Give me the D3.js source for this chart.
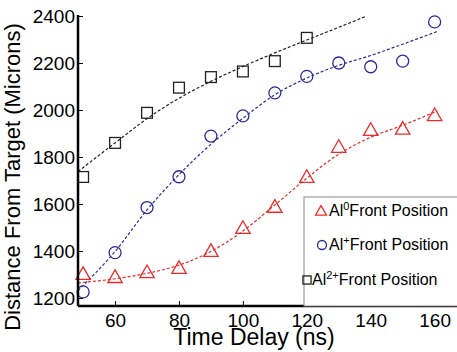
<!DOCTYPE html>
<html>
<head>
<meta charset="utf-8">
<script src="https://cdn.jsdelivr.net/npm/d3@7"></script>
<style>
  body { margin: 0; background: #fff; }
  svg text { font-family: "Liberation Sans", Arial, sans-serif; }
</style>
</head>
<body>
<div id="chart"></div>
<script>
// measured delays (ns)
const delays = [50, 60, 70, 80, 90, 100, 110, 120, 130, 140, 150, 160];
const al0 = [1302, 1289, 1310, 1328, 1400, 1498, 1588, 1715, 1843, 1915, 1920, 1978];
const al1 = [1226, 1393, 1585, 1716, 1889, 1975, 2073, 2143, 2200, 2184, 2208, 2375];
const al2Delays = [50, 60, 70, 80, 90, 100, 110, 120];
const al2 = [1715, 1860, 1988, 2095, 2140, 2164, 2208, 2307];

// fitted curves
const fit0 = [[48.4, 1264], [60, 1282], [70, 1305], [80, 1340], [90, 1398], [100, 1485], [110, 1596], [120, 1710], [130, 1812], [140, 1884], [150, 1935], [161, 1997]];
const fit1 = [[48.4, 1232], [60, 1398], [70, 1575], [80, 1725], [88, 1830], [100, 1965], [110, 2065], [120, 2136], [130, 2190], [140, 2232], [150, 2280], [161.2, 2336]];
const fit2 = [[48.4, 1738], [60, 1860], [70, 1963], [80, 2050], [90, 2122], [100, 2185], [110, 2243], [120, 2298], [130, 2352], [138.4, 2398]];

const xTicks = [60, 80, 100, 120, 140, 160];
const yTicks = [1200, 1400, 1600, 1800, 2000, 2200, 2400];

const W = 457, H = 352;
const pLeft = 78, pTop = 16, pRight = 457, pBottom = 306;

const svg = d3.select("#chart").append("svg")
    .attr("width", W)
    .attr("height", H);

const x = d3.scaleLinear().domain([48.4, 167]).range([pLeft, pRight]);
const y = d3.scaleLinear().domain([1166, 2400]).range([pBottom, pTop]);

svg.append("clipPath").attr("id", "clip")
    .append("rect")
    .attr("x", pLeft).attr("y", pTop)
    .attr("width", pRight - pLeft).attr("height", pBottom - pTop);

const series = [
    { name: "0", color: "#ee2a2a", xs: delays, ys: al0, fit: fit0, shape: "tri" },
    { name: "+", color: "#2b2b9c", xs: delays, ys: al1, fit: fit1, shape: "circ" },
    { name: "2+", color: "#222", xs: al2Delays, ys: al2, fit: fit2, shape: "sq" }
];

// dashed fit lines
const line = d3.line()
    .x(d => x(d[0]))
    .y(d => y(d[1]))
    .curve(d3.curveMonotoneX);

svg.append("g").attr("clip-path", "url(#clip)")
    .selectAll("path")
    .data(series)
    .enter()
    .append("path")
    .attr("d", d => line(d.fit))
    .attr("fill", "none")
    .attr("stroke", d => d.color)
    .attr("stroke-width", 1.2)
    .attr("stroke-dasharray", "3,2");

// marker drawing
const drawMarker = (g, shape, cx, cy, s, color) => {
    if (shape === "tri") {
        g.append("path")
            .attr("d", `M${cx},${cy - s * 0.6}L${cx + s * 0.6},${cy + s * 0.45}L${cx - s * 0.6},${cy + s * 0.45}Z`)
            .attr("fill", "none").attr("stroke", color).attr("stroke-width", 1.3);
    } else if (shape === "circ") {
        g.append("circle")
            .attr("cx", cx).attr("cy", cy).attr("r", s * 0.5)
            .attr("fill", "none").attr("stroke", color).attr("stroke-width", 1.3);
    } else {
        g.append("rect")
            .attr("x", cx - s * 0.45).attr("y", cy - s * 0.45)
            .attr("width", s * 0.9).attr("height", s * 0.9)
            .attr("fill", "none").attr("stroke", color).attr("stroke-width", 1.3);
    }
};

const marks = svg.append("g");
series.forEach(s => {
    s.xs.forEach((xv, i) => drawMarker(marks, s.shape, x(xv), y(s.ys[i]), 12, s.color));
});

// axes
const xAxis = d3.axisBottom(x).tickValues(xTicks).tickFormat(d3.format("d"))
    .tickSizeInner(-5).tickSizeOuter(0).tickPadding(8);
const yAxis = d3.axisLeft(y).tickValues(yTicks).tickFormat(d3.format("d"))
    .tickSizeInner(-5).tickSizeOuter(0).tickPadding(3);

const gx = svg.append("g").attr("transform", `translate(0,${pBottom})`).call(xAxis);
const gy = svg.append("g").attr("transform", `translate(${pLeft},0)`).call(yAxis);

[gx, gy].forEach(g => {
    g.select(".domain").attr("stroke", "#000").attr("stroke-width", 2.5);
    g.selectAll(".tick line").attr("stroke", "#000").attr("stroke-width", 1);
    g.selectAll(".tick text")
        .attr("fill", "#000")
        .style("font-size", "19px")
        .style("font-family", "'Liberation Sans', Arial, sans-serif");
});
gx.select(".domain").attr("d", `M${pLeft},0H${pRight}`);
gy.select(".domain").attr("d", `M0,${pBottom}V${pTop - 1}`);

// axis titles
svg.append("text")
    .attr("x", 254).attr("y", 345)
    .attr("text-anchor", "middle")
    .style("font-size", "23px")
    .text("Time Delay (ns)");

svg.append("text")
    .attr("transform", "translate(20,177) rotate(-90)")
    .attr("text-anchor", "middle")
    .style("font-size", "22px")
    .text("Distance From Target (Microns)");

// legend
const legend = svg.append("g");
legend.append("rect")
    .attr("x", 304).attr("y", 197)
    .attr("width", 170).attr("height", pBottom - 197)
    .attr("fill", "#fff").attr("stroke", "#888").attr("stroke-width", 1);

const legendRows = [
    { s: series[0], mx: 321, tx: 329, ty: 216 },
    { s: series[1], mx: 322, tx: 329, ty: 250 },
    { s: series[2], mx: 307, tx: 312, ty: 285 }
];
legendRows.forEach(r => {
    drawMarker(legend, r.s.shape, r.mx, r.ty - 5, 9, r.s.color);
    const t = legend.append("text")
        .attr("x", r.tx).attr("y", r.ty)
        .style("font-size", "16px")
        .attr("fill", "#000");
    t.append("tspan").text("Al");
    t.append("tspan").attr("dy", -6).style("font-size", "11px").text(r.s.name);
    t.append("tspan").attr("dy", 6).text("Front Position");
});
</script>
</body>
</html>
